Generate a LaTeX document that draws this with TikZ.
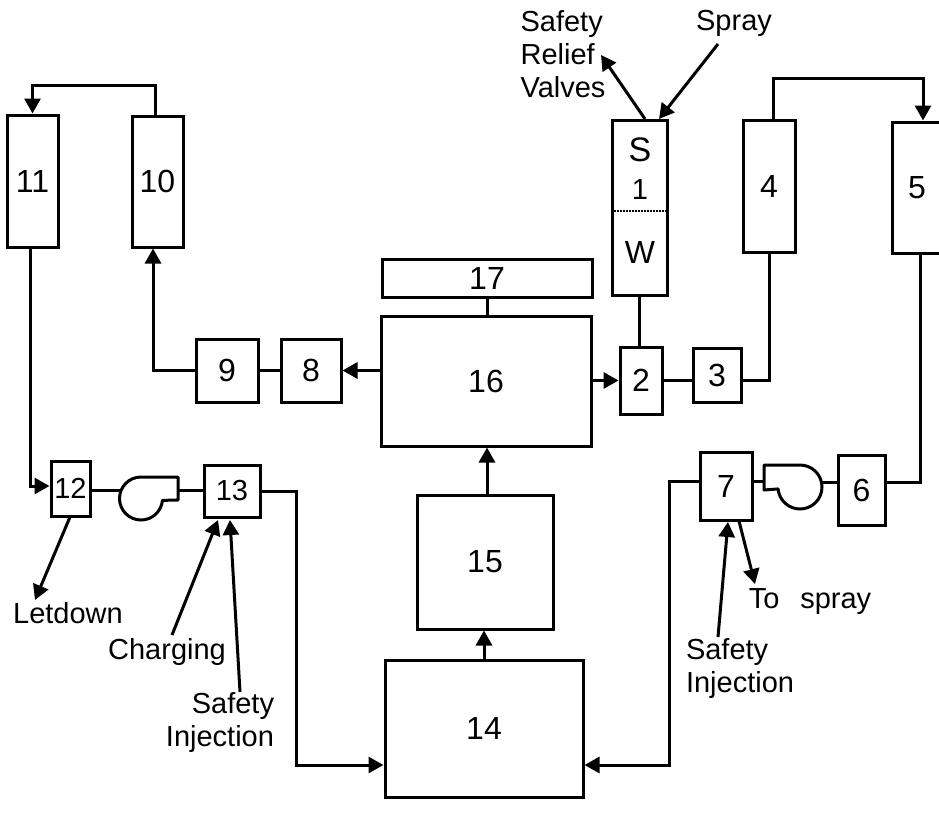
\documentclass[tikz,border=0pt]{standalone}
\usepackage{fontspec}
\setmainfont{Liberation Sans}
\usetikzlibrary{arrows.meta}
\begin{document}
\begin{tikzpicture}[
  x=1pt,y=-1pt,
  every node/.style={font=\fontsize{29}{33}\selectfont},
  unit/.style={draw,line width=3pt,inner sep=0pt,font=\fontsize{32}{33}\selectfont},
  small/.style={font=\fontsize{29}{33}\selectfont},
  pipe/.style={line width=3pt},
  flow/.style={line width=3pt,-{Triangle[length=15pt,width=16pt]}},
  lab/.style={inner sep=0pt}
]
\useasboundingbox (0,0) rectangle (939,827);
\node[unit,minimum width=51pt,minimum height=132pt] (b11) at (32.5,181) {11};
\node[unit,minimum width=51pt,minimum height=131pt] (b10) at (157.5,181.5) {10};
\node[unit,minimum width=55pt,minimum height=175pt] (tank) at (639.5,207.5) {};
\node[unit,minimum width=52pt,minimum height=132pt] (b4) at (769,186) {4};
\node[unit,minimum width=50pt,minimum height=131pt] (b5) at (917,187.5) {5};
\node[unit,minimum width=210pt,minimum height=38pt] (b17) at (487,278) {17};
\node[unit,minimum width=210pt,minimum height=130pt] (b16) at (486,381) {16};
\node[unit,minimum width=62pt,minimum height=63pt] (b9) at (227,370.5) {9};
\node[unit,minimum width=60pt,minimum height=63pt] (b8) at (311,370.5) {8};
\node[unit,minimum width=42pt,minimum height=67pt] (b2) at (641,380.5) {2};
\node[unit,minimum width=48pt,minimum height=54pt] (b3) at (717,375) {3};
\node[unit,small,minimum width=39pt,minimum height=55pt] (b12) at (70.5,488.5) {12};
\node[unit,small,minimum width=56pt,minimum height=52pt] (b13) at (232,491) {13};
\node[unit,minimum width=136pt,minimum height=134pt] (b15) at (485,562) {15};
\node[unit,minimum width=198pt,minimum height=137pt] (b14) at (484,728.5) {14};
\node[unit,minimum width=52pt,minimum height=68pt] (b7) at (726,486) {7};
\node[unit,minimum width=47pt,minimum height=70pt] (b6) at (861.5,490) {6};
% tank contents
\node[lab,font=\fontsize{34}{34}\selectfont] (tanks) at (640,150) {S};
\node[lab] (tank1) at (640,190) {1};
\node[lab,font=\fontsize{32}{33}\selectfont] (tankw) at (640,252) {W};
\draw[line width=2pt,densely dotted] (tank.west |- 0,211) -- (tank.east |- 0,211);
% pumps
\coordinate (pumpain) at (120,490);
\coordinate (pumpaout) at (178,490);
\coordinate (pumpbin) at (764,481);
\coordinate (pumpbout) at (822,482);
\draw[pipe,line join=round] (178,477) -- (141,477) arc[start angle=90,end angle=355,radius=21.5pt] -- (178,500) -- cycle;
\draw[pipe,line join=round] (764,465) -- (800,465) arc[start angle=90,end angle=-175,radius=22pt] -- (764,490) -- cycle;
% labels
\node[lab,align=left] (relief) at (563,54) {Safety\\Relief\\Valves};
\node[lab] (spray) at (734,23) {Spray};
\node[lab] (letdown) at (68,613) {Letdown};
\node[lab] (charging) at (167,652) {Charging};
\node[lab,align=right] (injl) at (220,723) {Safety\\Injection};
\node[lab,align=left] (injr) at (740,669) {Safety\\Injection};
\node[lab] (tospray) at (810,602) {To\ \ \,spray};
% free ends
\coordinate (reliefend) at (601,55);
\coordinate (reliefstart) at (645,119);
\coordinate (sprayend) at (659,119);
\coordinate (spraystart) at (718,44);
\coordinate (letstart) at (70,517);
\coordinate (letend) at (35,600);
\coordinate (chargestart) at (172,635);
\coordinate (chargeend) at (218,520);
\coordinate (injlstart) at (240,692);
\coordinate (injlend) at (230,520);
\coordinate (injrstart) at (718,637);
\coordinate (injrend) at (728,522);
\coordinate (tostart) at (739,521);
\coordinate (toend) at (755,584);
% pipes
\draw[flow] ([xshift=-2.5pt]b10.north) -- ++(0,-29) -| (b11.north);
\draw[flow] ([xshift=4pt]b4.north) -- ++(0,-40) -| ([xshift=6pt]b5.north);
\draw[pipe] (b17.south) -- (b17.south |- b16.north);
\draw[pipe] (tank.south) -- (tank.south |- b2.north);
\draw[flow] (b16.west |- b8.east) -- (b8.east);
\draw[pipe] (b8) -- (b9);
\draw[flow] (b9.west) -| ([xshift=-4.5pt]b10.south);
\draw[flow] (b16.east |- b2.west) -- (b2.west);
\draw[pipe] (b2.east) -- (b3.west |- b2.east);
\draw[pipe] (b3.east |- b2.east) -| (b4.south);
\draw[flow] ([xshift=-2.5pt]b11.south) |- ([yshift=2.5pt]b12.west);
\draw[pipe] (b12.east |- pumpain) -- (pumpain);
\draw[pipe] (pumpaout) -- (b13.west |- pumpaout);
\draw[flow] (b13.east) -- ++(35,0) |- (b14.west |- 0,765);
\draw[flow] (b7.west |- pumpbin) -- ++(-29,0) |- (b14.east |- 0,765);
\draw[pipe] (b7.east |- pumpbin) -- (pumpbin);
\draw[pipe] (pumpbout) -- (b6.west |- pumpbout);
\draw[pipe] (b6.east |- pumpbout) -| ([xshift=3pt]b5.south);
\draw[flow] (b14.north) -- (b14.north |- b15.south);
\draw[flow] ([xshift=2pt]b15.north) -- ([xshift=1pt]b16.south);
% free arrows
\draw[flow] (reliefstart) -- (reliefend);
\draw[flow] (spraystart) -- (sprayend);
\draw[flow] (letstart) -- (letend);
\draw[flow] (chargestart) -- (chargeend);
\draw[flow] (injlstart) -- (injlend);
\draw[flow] (injrstart) -- (injrend);
\draw[flow] (tostart) -- (toend);
\end{tikzpicture}
\end{document}
